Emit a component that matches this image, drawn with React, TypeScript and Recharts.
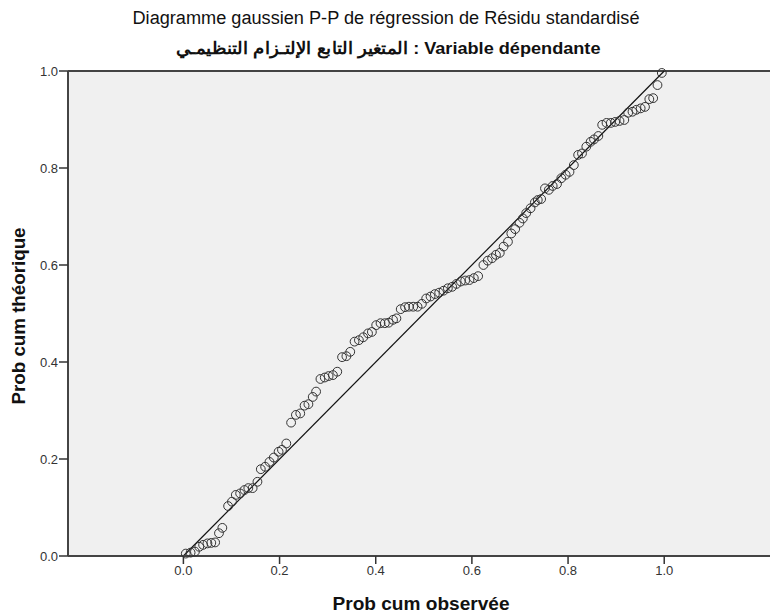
import {
  ScatterChart,
  Scatter,
  XAxis,
  YAxis,
  CartesianGrid,
  ReferenceLine,
} from 'recharts';

// observed cumulative probability (x) and expected cumulative probability (y)
const observed = [
  0.005, 0.015, 0.024, 0.033, 0.041, 0.05, 0.058, 0.066, 0.074, 0.081,
  0.093, 0.101, 0.109, 0.118, 0.127, 0.135, 0.144, 0.154, 0.161, 0.17,
  0.179, 0.188, 0.198, 0.205, 0.214, 0.224, 0.234, 0.243, 0.252, 0.26,
  0.269, 0.276, 0.285, 0.294, 0.302, 0.311, 0.32, 0.33, 0.339, 0.347,
  0.356, 0.365, 0.374, 0.384, 0.392, 0.401, 0.41, 0.419, 0.427, 0.436,
  0.443, 0.452, 0.461, 0.469, 0.478, 0.487, 0.496, 0.505, 0.514, 0.523,
  0.532, 0.541, 0.55, 0.559, 0.568, 0.577, 0.586, 0.595, 0.604, 0.613,
  0.624, 0.633, 0.642, 0.65, 0.658, 0.666, 0.675, 0.682, 0.69, 0.699,
  0.706, 0.713, 0.722, 0.731, 0.737, 0.744, 0.752, 0.76, 0.768, 0.777,
  0.786, 0.795, 0.803, 0.812, 0.821, 0.829, 0.838, 0.847, 0.854, 0.863,
  0.871, 0.88, 0.889, 0.898, 0.907, 0.917, 0.925, 0.934, 0.942, 0.951,
  0.96, 0.969, 0.977, 0.986, 0.995,
];
const expected = [
  0.005, 0.007, 0.009, 0.019, 0.023, 0.026, 0.027, 0.028, 0.047, 0.058,
  0.103, 0.112, 0.126, 0.129, 0.136, 0.14, 0.14, 0.153, 0.179, 0.184,
  0.194, 0.203, 0.215, 0.219, 0.232, 0.275, 0.291, 0.294, 0.31, 0.313,
  0.328, 0.339, 0.365, 0.368, 0.371, 0.373, 0.38, 0.41, 0.412, 0.421,
  0.442, 0.445, 0.451, 0.459, 0.462, 0.476, 0.48, 0.48, 0.481, 0.487,
  0.49, 0.509, 0.513, 0.514, 0.514, 0.514, 0.52, 0.531, 0.535, 0.54,
  0.543, 0.547, 0.552, 0.555, 0.561, 0.566, 0.568, 0.569, 0.573, 0.577,
  0.6, 0.609, 0.614, 0.621, 0.625, 0.638, 0.648, 0.665, 0.674, 0.687,
  0.696, 0.707, 0.717, 0.729, 0.734, 0.736, 0.758, 0.755, 0.763, 0.767,
  0.779, 0.786, 0.792, 0.806, 0.827, 0.83, 0.844, 0.854, 0.859, 0.866,
  0.889, 0.893, 0.893, 0.895, 0.897, 0.899, 0.914, 0.916, 0.92, 0.923,
  0.926, 0.942, 0.944, 0.971, 0.996,
];
const axisTicks = [0, 0.2, 0.4, 0.6, 0.8, 1.0];

const title = 'Diagramme gaussien P-P de régression de Résidu standardisé';
const subtitle = 'المتغير التابع الإلتـزام التنظيمـي : Variable dépendante';
const xTitle = 'Prob cum observée';
const yTitle = 'Prob cum théorique';

const points = observed.map((x, i) => ({ x, y: expected[i] }));

const font = '"Liberation Sans", Arial, sans-serif';

const Ring = (props: any) => {
  const { cx, cy } = props;
  return <circle cx={cx} cy={cy} r={4.4} fill="none" stroke="#333" strokeWidth={1} />;
};

export default function App() {
  return (
    <div style={{ position: 'absolute', left: 0, top: 0, width: 772, height: 616, background: '#fff' }}>
      <ScatterChart
        width={772}
        height={616}
        margin={{ top: 71, right: 2, left: 0, bottom: 0 }}
        style={{ fontFamily: font }}
      >
        <CartesianGrid fill="#f0f0f0" horizontal={false} vertical={false} />
        <XAxis
          type="number"
          dataKey="x"
          domain={[-0.24, 1.22]}
          ticks={axisTicks}
          allowDataOverflow
          height={60}
          tickFormatter={(v: number) => v.toFixed(1)}
          tick={{ fontSize: 13, fill: '#333' }}
          tickSize={8}
          tickLine={{ stroke: '#333', strokeWidth: 1.5 }}
          axisLine={{ stroke: '#444', strokeWidth: 2 }}
        />
        <YAxis
          type="number"
          dataKey="y"
          domain={[0, 1]}
          ticks={axisTicks}
          width={68}
          tickFormatter={(v: number) => v.toFixed(1)}
          tick={{ fontSize: 13, fill: '#333' }}
          tickSize={9}
          tickMargin={1}
          tickLine={{ stroke: '#333', strokeWidth: 1.5 }}
          axisLine={{ stroke: '#444', strokeWidth: 2 }}
        />
        <ReferenceLine y={1} stroke="#444" strokeWidth={2} />
        <ReferenceLine
          segment={[
            { x: 0, y: 0 },
            { x: 1, y: 1 },
          ]}
          stroke="#111"
          strokeWidth={1.2}
        />
        <Scatter data={points} shape={<Ring />} isAnimationActive={false} />
      </ScatterChart>
      <svg
        width={772}
        height={616}
        style={{ position: 'absolute', left: 0, top: 0, pointerEvents: 'none', fontFamily: font }}
      >
        <text x={386} y={24} textAnchor="middle" fontSize={18} textLength={507} lengthAdjust="spacingAndGlyphs" fill="#111">
          {title}
        </text>
        <text x={388} y={54} textAnchor="middle" fontSize={17} fontWeight="bold" textLength={425} lengthAdjust="spacingAndGlyphs" fill="#111">
          {subtitle}
        </text>
        <text x={421} y={610} textAnchor="middle" fontSize={18} fontWeight="bold" textLength={177} lengthAdjust="spacingAndGlyphs" fill="#111">
          {xTitle}
        </text>
        <text
          x={0}
          y={0}
          transform="translate(25,316) rotate(-90)"
          textAnchor="middle"
          fontSize={18}
          fontWeight="bold"
          textLength={177}
          lengthAdjust="spacingAndGlyphs"
          fill="#111"
        >
          {yTitle}
        </text>
      </svg>
    </div>
  );
}
